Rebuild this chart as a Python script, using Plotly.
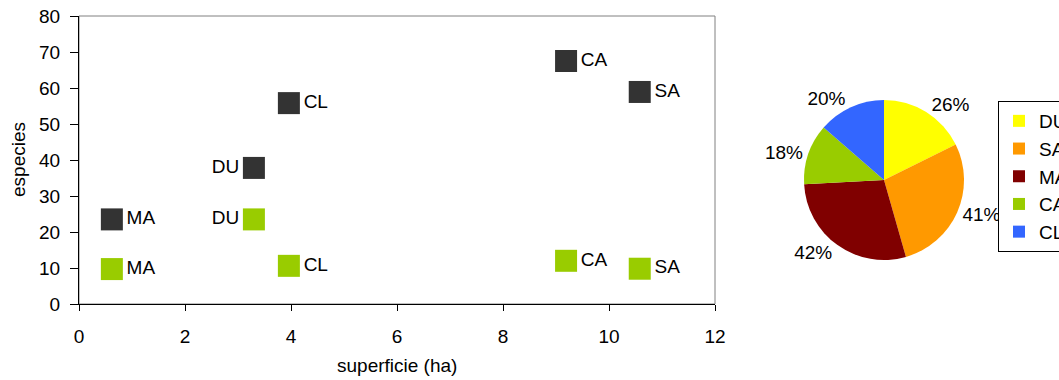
import plotly.graph_objects as go

# ---- data ----
sites = ["MA", "DU", "CL", "CA", "SA"]
superficie = [0.62, 3.30, 3.96, 9.19, 10.58]
especies_total = [23.5, 37.8, 55.8, 67.5, 58.9]
especies_green = [9.7, 23.5, 10.6, 12.0, 9.8]
label_pos = ["middle right", "middle left", "middle right", "middle right", "middle right"]

pie_labels = ["DU", "SA", "MA", "CA", "CL"]
pie_values = [26, 41, 42, 18, 20]
pie_colors = ["#FFFF00", "#FF9900", "#800000", "#99CC00", "#3366FF"]

x_ticks = [0, 2, 4, 6, 8, 10, 12]
y_ticks = [0, 10, 20, 30, 40, 50, 60, 70, 80]

W, H = 1059, 380
FONT = "Arial, Liberation Sans, sans-serif"
FS = 19

fig = go.Figure()
fig.add_trace(go.Scatter(
    x=superficie, y=especies_total, mode="markers+text", text=sites,
    textposition=label_pos, textfont=dict(size=FS, color="#000", family=FONT),
    marker=dict(symbol="square", size=22, color="#333333", line=dict(width=0)),
    showlegend=False, cliponaxis=False))
fig.add_trace(go.Scatter(
    x=superficie, y=especies_green, mode="markers+text", text=sites,
    textposition=label_pos, textfont=dict(size=FS, color="#000", family=FONT),
    marker=dict(symbol="square", size=22, color="#99CC00", line=dict(width=0)),
    showlegend=False, cliponaxis=False))

PR = 80
fig.add_trace(go.Pie(
    labels=pie_labels, values=pie_values, text=[f"{v}%" for v in pie_values],
    textinfo="text", textposition="outside", sort=False, direction="clockwise",
    rotation=0, marker=dict(colors=pie_colors, line=dict(width=0)),
    textfont=dict(size=FS, color="#000", family=FONT),
    domain=dict(x=[(884 - PR) / W, (884 + PR) / W], y=[1 - (180 + PR) / H, 1 - (180 - PR) / H]),
    showlegend=True))

x0, x1 = 79, 715
y0, y1 = 16, 304
fig.update_layout(
    width=W, height=H, margin=dict(l=0, r=0, t=0, b=0, autoexpand=False),
    paper_bgcolor="white", plot_bgcolor="white",
    font=dict(family=FONT, size=FS, color="#000"),
    xaxis=dict(domain=[x0 / W, x1 / W], range=[0, 12], tickvals=x_ticks,
               showgrid=False, zeroline=False, showline=True, linecolor="#000", linewidth=1,
               ticks="outside", ticklen=6, tickcolor="#000", automargin=False,
               ticklabelstandoff=9),
    yaxis=dict(domain=[1 - y1 / H, 1 - y0 / H], range=[0, 80], tickvals=y_ticks,
               showgrid=False, zeroline=False, showline=True, linecolor="#000", linewidth=1,
               ticks="outside", ticklen=8, tickcolor="#000", automargin=False,
               ticklabelstandoff=6),
    legend=dict(xref="container", yref="container", x=998 / W, y=1 - 101 / H,
                xanchor="left", yanchor="top", bordercolor="#000", borderwidth=1,
                bgcolor="white", font=dict(size=FS, family=FONT, color="#000")),
    shapes=[dict(type="rect", xref="x domain", yref="y domain", x0=0, x1=1, y0=0, y1=1,
                 line=dict(color="#808080", width=1), layer="below")],
    annotations=[
        dict(text="especies", xref="paper", yref="paper", x=18 / W, y=1 - 160 / H,
             xanchor="center", yanchor="middle",
             textangle=-90, showarrow=False, font=dict(size=FS)),
        dict(text="superficie (ha)", xref="paper", yref="paper", x=397 / W, y=1 - 365 / H,
             xanchor="center", yanchor="middle",
             showarrow=False, font=dict(size=FS)),
    ],
)
fig.write_html("out.html")
